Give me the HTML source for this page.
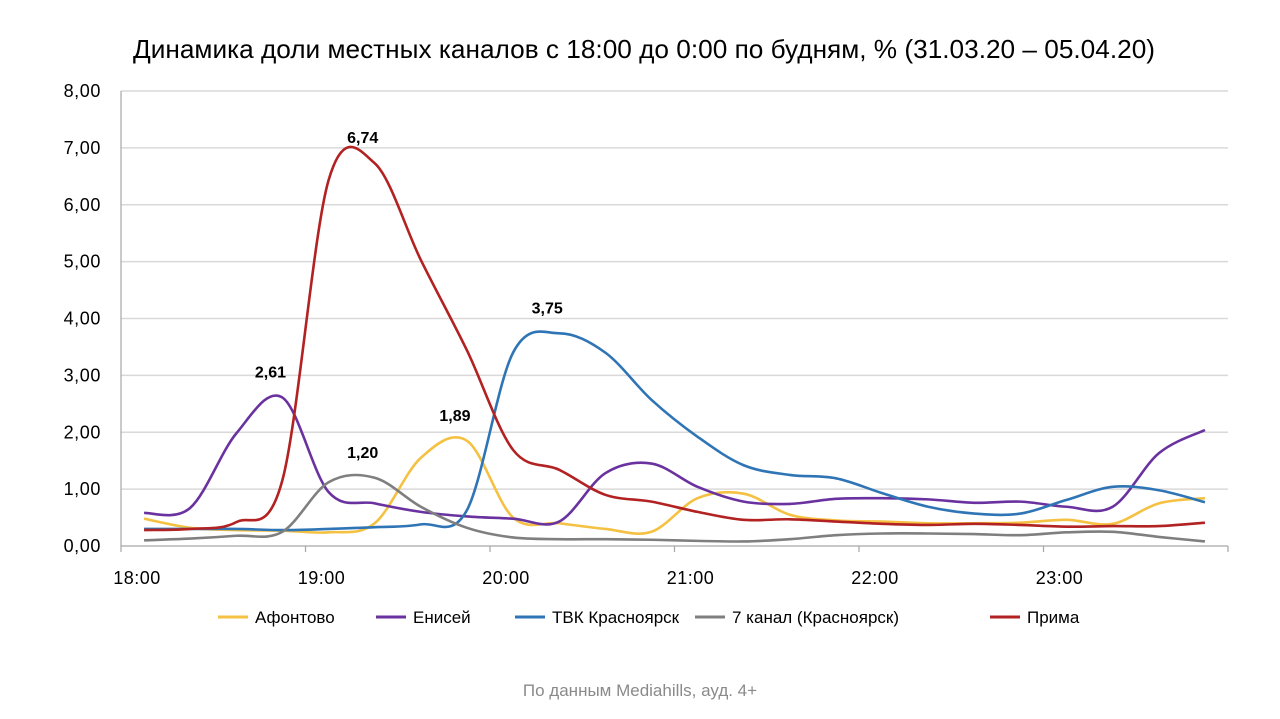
<!DOCTYPE html>
<html><head><meta charset="utf-8"><style>
body{margin:0;background:#fff;width:1280px;height:714px;overflow:hidden;font-family:"Liberation Sans",sans-serif}
</style></head><body>
<svg id="chart" width="1280" height="714" xmlns="http://www.w3.org/2000/svg" font-family="Liberation Sans, sans-serif">
<text x="133" y="58" textLength="1022" lengthAdjust="spacingAndGlyphs" font-size="26" fill="#000">Динамика доли местных каналов с 18:00 до 0:00 по будням, % (31.03.20 – 05.04.20)</text>
<g id="grid"></g>
<g id="axes"></g>
<g id="series"></g>
<g id="labels"></g>
<g id="legend"></g>
<text x="640" y="696" text-anchor="middle" font-size="17" fill="#8a8a8a">По данным Mediahills, ауд. 4+</text>
</svg>
<script>
const hourLabels=["18:00","19:00","20:00","21:00","22:00","23:00"];
const yTicks=[0,1,2,3,4,5,6,7,8];
const seriesNames=["Афонтово","Енисей","ТВК Красноярск","7 канал (Красноярск)","Прима"];
const seriesColors=["#f4c142","#6a329f","#2f75b5","#7f7f7f","#b22222"];
const afontovo=[0.48,0.32,0.28,0.27,0.24,0.4,1.55,1.85,0.5,0.4,0.3,0.25,0.84,0.92,0.55,0.45,0.43,0.40,0.40,0.41,0.46,0.39,0.75,0.84];
const enisey=[0.58,0.67,1.98,2.61,0.95,0.75,0.6,0.52,0.48,0.43,1.28,1.45,1.04,0.78,0.74,0.83,0.84,0.82,0.76,0.78,0.69,0.69,1.63,2.04];
const tvk=[0.3,0.3,0.3,0.28,0.3,0.33,0.38,0.63,3.4,3.74,3.4,2.57,1.92,1.42,1.25,1.19,0.93,0.69,0.57,0.57,0.81,1.04,0.98,0.77];
const kanal7=[0.1,0.13,0.18,0.25,1.12,1.2,0.69,0.32,0.15,0.12,0.12,0.11,0.09,0.08,0.12,0.19,0.22,0.22,0.21,0.19,0.24,0.25,0.16,0.08];
const prima=[0.28,0.30,0.42,1.16,6.43,6.73,5.03,3.44,1.69,1.34,0.9,0.78,0.60,0.46,0.47,0.43,0.39,0.37,0.39,0.37,0.34,0.35,0.35,0.41];
const labelSeries=[4,2,1,0,3];
const labelPoints=[5,9,3,7,5];
const labelTexts=["6,74","3,75","2,61","1,89","1,20"];

const NS="http://www.w3.org/2000/svg";
const X0=121,X1=1228,Y0=546,Y1=91,N=24,PER_H=4;
const step=(X1-X0)/N;
function xPos(i){return X0+step*(i+0.5);}
function yPos(v){return Y0-(v/8)*(Y0-Y1);}
function mk(tag,attrs,parent){const e=document.createElementNS(NS,tag);for(const k in attrs)e.setAttribute(k,attrs[k]);parent.appendChild(e);return e;}
const grid=document.getElementById('grid'),axes=document.getElementById('axes');
yTicks.forEach(t=>{
  if(t>0){const l=mk('line',{x1:X0,x2:X1,y1:yPos(t),y2:yPos(t),stroke:'#d9d9d9','stroke-width':1.5},grid);
  
  }
  const tx=mk('text',{x:101,y:yPos(t)+6,'text-anchor':'end','font-size':18,'letter-spacing':'0.6',fill:'#000'},axes);
  tx.textContent=t.toFixed(2).replace('.',',');
  
  
});
mk('line',{x1:X0,x2:X0,y1:Y1,y2:Y0,stroke:'#a6a6a6','stroke-width':1.2},axes);
mk('line',{x1:X0,x2:X1,y1:Y0,y2:Y0,stroke:'#a6a6a6','stroke-width':1.2},axes);
for(let h=0;h<=hourLabels.length;h++){
  const x=X0+h*PER_H*step;
  mk('line',{x1:x,x2:x,y1:Y0,y2:Y0+6,stroke:'#a6a6a6','stroke-width':1.2},axes);
  if(h<hourLabels.length){const tx=mk('text',{x:x+16,y:584,'text-anchor':'middle','font-size':18,'letter-spacing':'0.5',fill:'#000'},axes);
  tx.textContent=hourLabels[h];
  
  }
}
const allSeries=[afontovo,enisey,tvk,kanal7,prima];
const sg=document.getElementById('series');
function smooth(arr){
  const p=arr.map((v,i)=>[xPos(i),yPos(v)]);
  let d=`M${p[0][0]},${p[0][1]}`;
  for(let i=0;i<p.length-1;i++){
    const a=p[Math.max(i-1,0)],b=p[i],c=p[i+1],e=p[Math.min(i+2,p.length-1)];
    const c1=[b[0]+(c[0]-a[0])/6,b[1]+(c[1]-a[1])/6],c2=[c[0]-(e[0]-b[0])/6,c[1]-(e[1]-b[1])/6];
    d+=` C${c1[0]},${c1[1]} ${c2[0]},${c2[1]} ${c[0]},${c[1]}`;
  }
  return d;
}
allSeries.forEach((s,k)=>{
  const p=mk('path',{d:smooth(s),fill:'none',stroke:seriesColors[k],'stroke-width':2.6,'stroke-linejoin':'round'},sg);
  
  
});
const lg=document.getElementById('labels');
labelTexts.forEach((t,j)=>{
  const s=allSeries[labelSeries[j]],i=labelPoints[j];
  const tx=mk('text',{x:xPos(i)-12,y:yPos(s[i])-20,'text-anchor':'middle','font-size':16,'font-weight':'bold',fill:'#000'},lg);
  tx.textContent=t;
  
  
});
const leg=document.getElementById('legend');
const legX=[218,376,515,695,990];
seriesNames.forEach((n,k)=>{
  const g=mk('g',{},leg);
  
  
  mk('line',{x1:legX[k],x2:legX[k]+30,y1:617,y2:617,stroke:seriesColors[k],'stroke-width':3},g);
  const tx=mk('text',{x:legX[k]+37,y:623,'font-size':17,fill:'#000'},g);
  tx.textContent=n;
});
</script>
</body></html>
